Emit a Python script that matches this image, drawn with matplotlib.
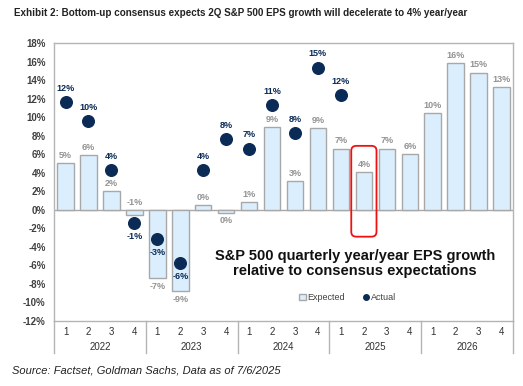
import numpy as np
import matplotlib.pyplot as plt
import matplotlib.font_manager as fm
from matplotlib.patches import FancyBboxPatch
from matplotlib.lines import Line2D
from matplotlib.patches import Patch

years = ['2022', '2023', '2024', '2025', '2026']
quarters = ['1', '2', '3', '4']

expected = [5.0, 5.9, 2.0, -0.6,
            -7.4, -8.8, 0.5, -0.3,
            0.8, 8.9, 3.1, 8.8,
            6.6, 4.1, 6.6, 6.0,
            10.4, 15.8, 14.8, 13.2]
expected_lbl = ['5%', '6%', '2%', '-1%', '-7%', '-9%', '0%', '0%', '1%', '9%',
                '3%', '9%', '7%', '4%', '7%', '6%', '10%', '16%', '15%', '13%']

actual = [11.6, 9.6, 4.3, -1.4,
          -3.1, -5.7, 4.3, 7.6,
          6.6, 11.3, 8.3, 15.35,
          12.4]
actual_lbl = ['12%', '10%', '4%', '-1%', '-3%', '-6%', '4%', '8%', '7%',
              '11%', '8%', '15%', '12%']

navy = '#0b2b57'
gray_txt = '#939393'
axcol = '#b4b4b4'
plt.rcParams['font.family'] = ['Liberation Sans', 'DejaVu Sans']

fig = plt.figure(figsize=(5.23, 3.86), dpi=100)
ax = fig.add_axes([0.1033, 0.1684, 0.8777, 0.7202])

x = np.arange(len(expected))
ax.bar(x, expected, width=0.72, color='#daeefd', edgecolor='#a8a8a8', linewidth=1.0, zorder=2)
xa = np.arange(len(actual))
ax.scatter(xa, actual, s=70, color=navy, zorder=3)

ax.axhline(0, color='#a8a8a8', lw=1.0, zorder=1)

for i, (v, t) in enumerate(zip(expected, expected_lbl)):
    if v >= 0 or i == 3:
        ax.text(i, max(v, 0) + 0.35, t, ha='center', va='bottom', fontsize=6.5,
                color=gray_txt, fontweight='bold')
    else:
        ax.text(i, v - 0.35, t, ha='center', va='top', fontsize=6.5,
                color=gray_txt, fontweight='bold')

for i, (v, t) in enumerate(zip(actual, actual_lbl)):
    if v >= 0:
        ax.text(i, v + 1.0, t, ha='center', va='bottom', fontsize=6.5,
                color=navy, fontweight='bold')
    else:
        ax.text(i, v - 1.0, t, ha='center', va='top', fontsize=6.5,
                color=navy, fontweight='bold')

# red highlight box round 2Q25
box = FancyBboxPatch((12.45, -2.9), 1.1, 9.8,
                     boxstyle='round,pad=0,rounding_size=0.22',
                     mutation_aspect=2.4, fill=False, edgecolor='#ee1111',
                     lw=1.3, zorder=4)
ax.add_patch(box)

ax.set_xlim(-0.5, 19.5)
ax.set_ylim(-12, 18)
ax.set_yticks(np.arange(-12, 19, 2))
ax.set_yticklabels([f'{v}%' for v in range(-12, 19, 2)])
ax.tick_params(axis='y', length=0, pad=6, labelsize=7, labelcolor='#404040')
for lb in ax.get_yticklabels():
    lb.set_fontweight('bold')
ax.set_xticks([])
for s in ax.spines.values():
    s.set_color(axcol)
    s.set_linewidth(1.0)

# quarter / year axis
trans = ax.get_xaxis_transform()
for i in x:
    ax.text(i, -0.04, quarters[i % 4], transform=trans, ha='center', va='center',
            fontsize=7, color='#303030')
for k, yr in enumerate(years):
    ax.text(4 * k + 1.5, -0.095, yr, transform=trans, ha='center', va='center',
            fontsize=7, color='#303030')
for b in [-0.5, 3.5, 7.5, 11.5, 15.5, 19.5]:
    ax.plot([b, b], [0, -0.115], transform=trans, color=axcol, lw=1.0, clip_on=False)

ax.text(12.6, -5.8, 'S&P 500 quarterly year/year EPS growth\nrelative to consensus expectations',
        ha='center', va='center', fontsize=10.5, fontweight='bold', color='#111111',
        linespacing=1.1)

handles = [Patch(facecolor='#daeefd', edgecolor='#a8a8a8', label='Expected'),
           Line2D([], [], marker='o', color=navy, lw=0, markersize=4, label='Actual')]
ax.legend(handles=handles, loc='center', bbox_to_anchor=(0.64, 0.085), ncol=2,
          frameon=False, fontsize=6.5, handlelength=0.7, handleheight=0.7,
          handletextpad=0.2, columnspacing=2.0, labelcolor='#404040')

names = {f.name for f in fm.fontManager.ttflist}
if 'Liberation Sans Narrow' in names:
    tfam, tsize = ['Liberation Sans Narrow', 'DejaVu Sans'], 8.6
else:
    tfam, tsize = ['Liberation Sans', 'DejaVu Sans'], 7.1
fig.text(0.027, 0.966, 'Exhibit 2: Bottom-up consensus expects 2Q S&P 500 EPS growth will decelerate to 4% year/year',
         fontsize=tsize, fontweight='bold', ha='left', va='center', color='#222222',
         family=tfam)
fig.text(0.023, 0.039, 'Source: Factset, Goldman Sachs, Data as of 7/6/2025',
         fontsize=8, style='italic', ha='left', va='center', color='#222222')

fig.savefig('out.png', dpi=100)
